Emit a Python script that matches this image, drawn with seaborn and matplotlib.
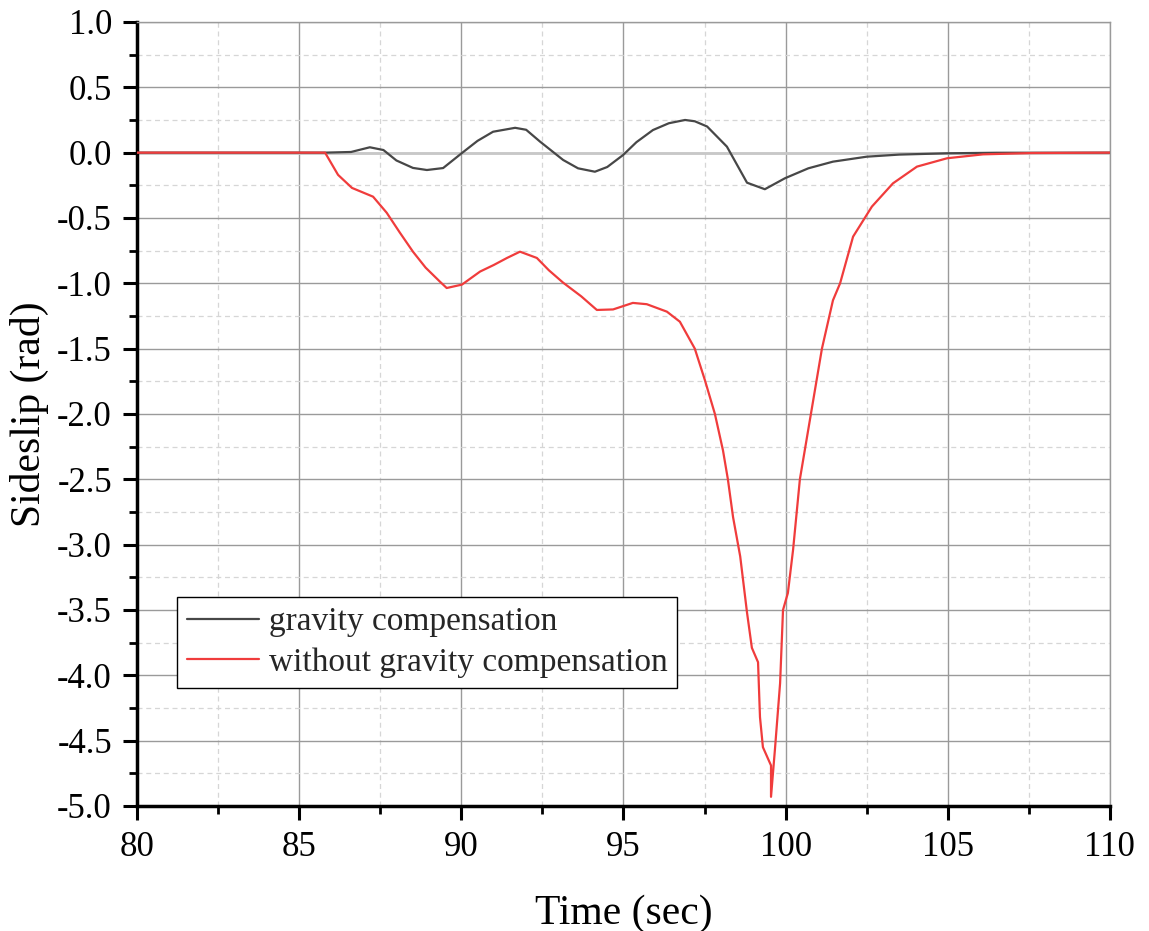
import matplotlib
matplotlib.use("Agg")
import matplotlib.pyplot as plt
import seaborn as sns
import numpy as np
import pandas as pd
from matplotlib.ticker import MultipleLocator, FormatStrFormatter

# gravity compensation
t_grav = [80.0, 85.8, 86.6, 87.18, 87.6, 88.0, 88.51, 88.94, 89.44, 90.02, 90.5, 90.98, 91.66, 92.0,
          92.43, 93.14, 93.6, 94.12, 94.5, 94.99, 95.4, 95.91, 96.4, 96.9, 97.2, 97.58, 98.19, 98.81,
          99.36, 99.98, 100.7, 101.46, 102.5, 103.5, 104.98, 106.5, 110.0]
v_grav = [0.0, 0.0, 0.005, 0.041, 0.02, -0.06, -0.117, -0.133, -0.118, -0.003, 0.09, 0.16, 0.19, 0.175,
          0.084, -0.056, -0.12, -0.146, -0.11, -0.018, 0.08, 0.173, 0.225, 0.25, 0.24, 0.2, 0.046, -0.23,
          -0.28, -0.196, -0.12, -0.069, -0.031, -0.015, -0.005, -0.001, 0.0]

# without gravity compensation
t_red = [80.0, 85.8, 86.2, 86.63, 87.28, 87.7, 88.1, 88.51, 88.9, 89.34, 89.55, 90.02, 90.58, 91.0,
         91.41, 91.81, 92.33, 92.7, 93.14, 93.7, 94.18, 94.68, 95.29, 95.72, 96.34, 96.74, 97.2,
         97.51, 97.82, 98.07, 98.22, 98.38, 98.6, 98.81, 98.96, 99.15, 99.21, 99.3, 99.55, 99.55, 99.67,
         99.83, 99.92, 100.07, 100.23, 100.44, 100.78, 101.12, 101.46, 101.68, 102.08, 102.66,
         103.31, 104.05, 104.98, 106.09, 107.6, 110.0]
v_red = [0.0, 0.0, -0.17, -0.27, -0.337, -0.46, -0.61, -0.758, -0.88, -0.987, -1.036, -1.01, -0.91, -0.86,
         -0.806, -0.758, -0.806, -0.9, -0.995, -1.1, -1.204, -1.2, -1.15, -1.16, -1.217, -1.294, -1.5,
         -1.74, -2.0, -2.28, -2.5, -2.79, -3.09, -3.52, -3.79, -3.9, -4.32, -4.55, -4.69, -4.93, -4.57,
         -4.06, -3.5, -3.37, -3.04, -2.5, -2.0, -1.5, -1.13, -1.0, -0.643, -0.413,
         -0.235, -0.107, -0.043, -0.013, -0.003, 0.0]

labels = ["gravity compensation", "without gravity compensation"]

sns.set_theme(style="white")
plt.rcParams['font.family'] = ['Liberation Serif', 'DejaVu Serif']
plt.rcParams['axes.unicode_minus'] = False

fig = plt.figure(figsize=(11.49, 9.31), dpi=100)
ax = fig.add_axes([0.1192, 0.1343, 0.8468, 0.8421])

ax.set_xlim(80, 110)
ax.set_ylim(-5.0, 1.0)
ax.xaxis.set_major_locator(MultipleLocator(5))
ax.xaxis.set_minor_locator(MultipleLocator(2.5))
ax.yaxis.set_major_locator(MultipleLocator(0.5))
ax.yaxis.set_minor_locator(MultipleLocator(0.25))
ax.yaxis.set_major_formatter(FormatStrFormatter('%.1f'))
ax.grid(which='major', color='#9a9a9a', linewidth=1.0, linestyle='-')
ax.grid(which='minor', color='#d6d6d6', linewidth=0.9, linestyle=(0, (4, 3)))
ax.set_axisbelow(True)
ax.axhline(0, color='#c8c8c8', linewidth=2.0, zorder=1)

sns.lineplot(x=t_grav, y=v_grav, ax=ax, color='#474747', linewidth=1.6, label=labels[0],
             sort=False, estimator=None, zorder=3)
sns.lineplot(x=t_red, y=v_red, ax=ax, color='#f03c3c', linewidth=1.6, label=labels[1],
             sort=False, estimator=None, zorder=3)

for s in ['left', 'bottom']:
    ax.spines[s].set_color('black')
    ax.spines[s].set_linewidth(2.5)
for s in ['top', 'right']:
    ax.spines[s].set_color('#9a9a9a')
    ax.spines[s].set_linewidth(1.0)

ax.tick_params(axis='both', which='major', direction='out', length=10, width=2.2, color='black',
               labelsize=25, left=True, bottom=True, pad=8, labelcolor='black')
ax.tick_params(axis='both', which='minor', direction='out', length=6, width=2.0, color='black',
               left=True, bottom=True)

ax.set_xlabel("Time (sec)", fontsize=30, labelpad=22, color='black')
ax.set_ylabel("Sideslip (rad)", fontsize=30, labelpad=6, color='black')

leg = ax.legend(loc='lower left', bbox_to_anchor=(0.041, 0.1505), borderaxespad=0,
                fontsize=24, frameon=True, fancybox=False, framealpha=1, edgecolor='black',
                handlelength=2.15, handletextpad=0.3, borderpad=0.3, labelspacing=0.3)
leg.get_frame().set_linewidth(1.0)

fig.savefig("out.png", dpi=100)
